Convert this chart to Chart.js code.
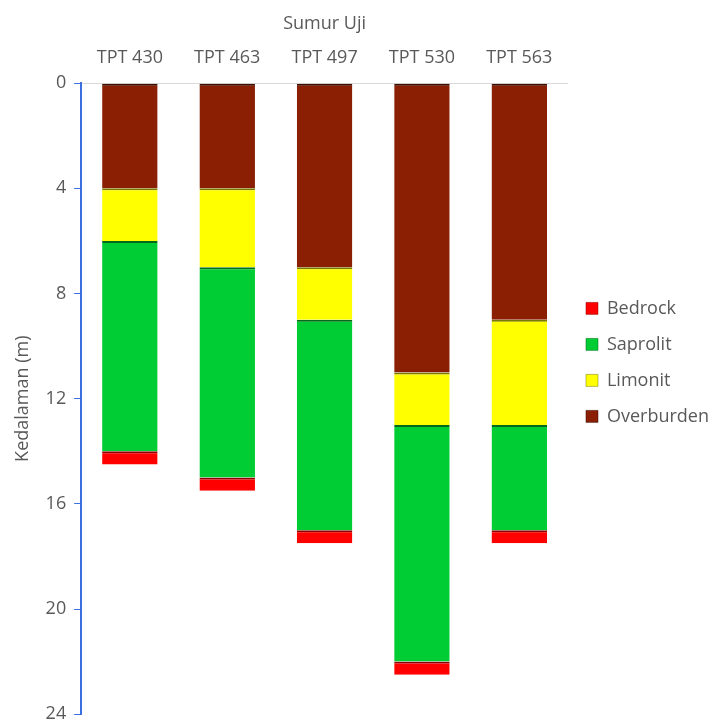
<!DOCTYPE html>
<html>
<head>
<meta charset="utf-8">
<script src="https://cdn.jsdelivr.net/npm/chart.js@4"></script>
<style>
  body { margin: 0; background: #fff; overflow: hidden; }
  #wrap { width: 715px; height: 733px; }
</style>
</head>
<body>
<div id="wrap"><canvas id="myChart"></canvas></div>
<script>
// sumur uji (test wells)
var wells = ["TPT 430", "TPT 463", "TPT 497", "TPT 530", "TPT 563"];
// layer thickness in metres, top to bottom
var overburden = [4, 4, 7, 11, 9];
var limonit = [2, 3, 2, 2, 4];
var saprolit = [8, 8, 8, 9, 4];
var bedrock = [0.5, 0.5, 0.5, 0.5, 0.5];
var yTicks = [0, 4, 8, 12, 16, 20, 24];

var textColor = "#595959";
var font = "'Open Sans', 'Liberation Sans', sans-serif";

function layer(label, data, color, edge) {
    return {
        label: label,
        data: data,
        backgroundColor: color,
        borderColor: edge,
        borderWidth: { top: 2, bottom: 0, left: 0, right: 0 },
        borderSkipped: false,
        stack: "s"
    };
}

var ctx = document.getElementById("myChart").getContext("2d");
var myChart = new Chart(ctx, {
    type: "bar",
    data: {
        labels: wells,
        datasets: [
            layer("Overburden", overburden, "#8a1f03", "#3d0c00"),
            layer("Limonit", limonit, "#ffff00", "#7a7a00"),
            layer("Saprolit", saprolit, "#00cc33", "#006b1a"),
            layer("Bedrock", bedrock, "#ff0000", "#8a0000")
        ]
    },
    options: {
        responsive: true,
        maintainAspectRatio: false,
        animation: false,
        layout: { padding: { top: 13, left: 8, right: -4, bottom: 0 } },
        datasets: { bar: { barPercentage: 0.57, categoryPercentage: 1 } },
        plugins: {
            tooltip: { enabled: false },
            legend: {
                position: "right",
                align: "start",
                reverse: true,
                // blank title only pushes the entries down
                title: { display: true, text: " ", padding: 127 },
                labels: {
                    color: textColor,
                    font: { family: font, size: 18 },
                    boxWidth: 12,
                    boxHeight: 12,
                    padding: 18
                }
            }
        },
        scales: {
            x: {
                position: "top",
                stacked: true,
                grid: { display: false },
                border: { display: true, color: "#d9d9d9" },
                ticks: { color: textColor, font: { family: font, size: 18 }, padding: 7 },
                title: { display: true, text: "Sumur Uji", color: textColor, font: { family: font, size: 18 }, padding: { top: 0, bottom: 5 } }
            },
            y: {
                stacked: true,
                reverse: true,
                min: 0,
                max: 24,
                afterBuildTicks: function (axis) {
                    axis.ticks = yTicks.map(function (v) { return { value: v }; });
                },
                grid: { drawOnChartArea: false, color: "#3b6fe0", tickLength: 7 },
                border: { display: true, color: "#3b6fe0", width: 2 },
                ticks: { color: textColor, font: { family: font, size: 18 }, padding: 8 },
                title: { display: true, text: "Kedalaman (m)", color: textColor, font: { family: font, size: 18 } }
            }
        }
    }
});
</script>
</body>
</html>
